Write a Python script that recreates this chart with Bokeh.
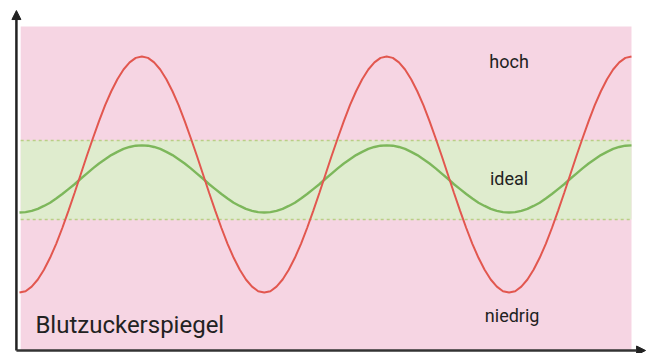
from bokeh.plotting import figure
from bokeh.models import Range1d, Arrow, NormalHead, ColumnDataSource
from bokeh.core.properties import value
from bokeh.embed import file_html
from bokeh.resources import INLINE

# time axis (arbitrary units, step 0.1) and levels
t = [round(i * 0.1, 1) for i in range(101)]
red_level = [
    1.79, 1.83, 1.97, 2.19, 2.49, 2.86, 3.29, 3.78, 4.31, 4.86, 5.43,
    6.00, 6.55, 7.08, 7.57, 8.00, 8.37, 8.67, 8.89, 9.03, 9.07,
    9.03, 8.89, 8.67, 8.37, 8.00, 7.57, 7.08, 6.55, 6.00, 5.43,
    4.86, 4.31, 3.78, 3.29, 2.86, 2.49, 2.19, 1.97, 1.83, 1.79,
    1.83, 1.97, 2.19, 2.49, 2.86, 3.29, 3.78, 4.31, 4.86, 5.43,
    6.00, 6.55, 7.08, 7.57, 8.00, 8.37, 8.67, 8.89, 9.03, 9.07,
    9.03, 8.89, 8.67, 8.37, 8.00, 7.57, 7.08, 6.55, 6.00, 5.43,
    4.86, 4.31, 3.78, 3.29, 2.86, 2.49, 2.19, 1.97, 1.83, 1.79,
    1.83, 1.97, 2.19, 2.49, 2.86, 3.29, 3.78, 4.31, 4.86, 5.43,
    6.00, 6.55, 7.08, 7.57, 8.00, 8.37, 8.67, 8.89, 9.03, 9.07,
]
green_level = [
    4.26, 4.27, 4.31, 4.37, 4.46, 4.56, 4.69, 4.83, 4.98, 5.13, 5.30,
    5.46, 5.62, 5.77, 5.90, 6.03, 6.13, 6.22, 6.28, 6.32, 6.33,
    6.32, 6.28, 6.22, 6.13, 6.03, 5.90, 5.77, 5.62, 5.46, 5.30,
    5.13, 4.98, 4.83, 4.69, 4.56, 4.46, 4.37, 4.31, 4.27, 4.26,
    4.27, 4.31, 4.37, 4.46, 4.56, 4.69, 4.83, 4.98, 5.13, 5.30,
    5.46, 5.62, 5.77, 5.90, 6.03, 6.13, 6.22, 6.28, 6.32, 6.33,
    6.32, 6.28, 6.22, 6.13, 6.03, 5.90, 5.77, 5.62, 5.46, 5.30,
    5.13, 4.98, 4.83, 4.69, 4.56, 4.46, 4.37, 4.31, 4.27, 4.26,
    4.27, 4.31, 4.37, 4.46, 4.56, 4.69, 4.83, 4.98, 5.13, 5.30,
    5.46, 5.62, 5.77, 5.90, 6.03, 6.13, 6.22, 6.28, 6.32, 6.33,
]

zone_range = [0.0, 10.0]      # full level range (pink)
ideal_range = [4.04, 6.48]    # ideal band (green)
time_range = [0.02, 10.0]

zone_labels = ["hoch", "ideal", "niedrig"]
zone_label_x = [8.0, 8.0, 8.05]
zone_label_y = [8.92, 5.31, 1.08]
title_text = "Blutzuckerspiegel"

FONT = "Roboto"

p = figure(width=657, height=353, output_backend="svg", toolbar_location=None,
           x_range=Range1d(-0.31, 10.425), y_range=Range1d(-0.093, 10.80),
           min_border=0, min_border_left=0, min_border_right=0,
           min_border_top=0, min_border_bottom=0)
p.axis.visible = False
p.grid.visible = False
p.outline_line_color = None
p.background_fill_color = "white"
p.border_fill_color = "white"

# zones
p.quad(left=[time_range[0]], right=[time_range[1]], bottom=[zone_range[0]], top=[zone_range[1]],
       fill_color="#f6d5e3", line_color=None)
p.quad(left=[time_range[0]], right=[time_range[1]], bottom=[ideal_range[0]], top=[ideal_range[1]],
       fill_color="#dfecce", line_color=None)
for yv in ideal_range:
    p.line(x=time_range, y=[yv, yv], line_color="#b9cf86", line_width=1.6, line_dash="3 3")

src = ColumnDataSource(dict(t=t, red=red_level, green=green_level))
p.line(x="t", y="green", source=src, line_color="#7db75b", line_width=2.4)
p.line(x="t", y="red", source=src, line_color="#e2574f", line_width=2.0)

# axes with arrows
p.add_layout(Arrow(end=NormalHead(size=9, fill_color="#222222", line_color="#222222"),
                   x_start=-0.05, y_start=0, x_end=-0.05, y_end=10.49,
                   line_color="#222222", line_width=2.5))
p.add_layout(Arrow(end=NormalHead(size=9, fill_color="#222222", line_color="#222222"),
                   x_start=-0.05, y_start=0, x_end=10.23, y_end=0,
                   line_color="#333333", line_width=2.5))

p.text(x=zone_label_x, y=zone_label_y, text=zone_labels, text_align="center",
       text_baseline="alphabetic", text_font=value(FONT), text_font_size="18px",
       text_color="#222222")
p.text(x=[0.26], y=[0.80], text=[title_text], text_align="left",
       text_baseline="alphabetic", text_font=value(FONT), text_font_size="24px",
       text_color="#222222")

open("out.html", "w").write(file_html(p, INLINE))
